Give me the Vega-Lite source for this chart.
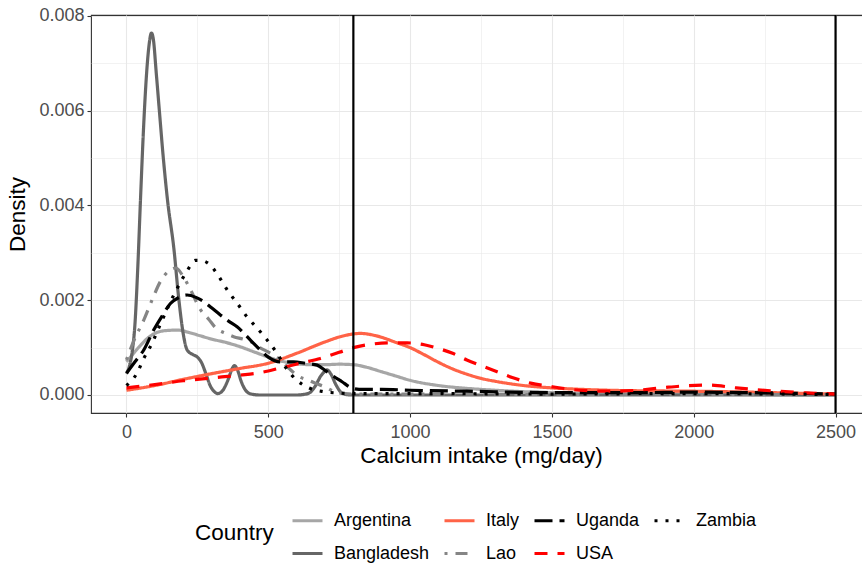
{
"$schema": "https://vega.github.io/schema/vega-lite/v6.json",
"width": 780, "height": 398,
"autosize": {"type": "none"},
"padding": {"left": 91, "top": 15, "right": 0, "bottom": 150},
"config": {
  "font": "Liberation Sans",
  "view": {"stroke": "#333333", "strokeWidth": 1.1},
  "axis": {"gridColor": "#E8E8E8", "domain": false, "tickColor": "#333333", "tickSize": 4, "tickWidth": 1.1, "labelColor": "#4D4D4D", "labelFontSize": 18, "titleFontSize": 22.5, "titleFontWeight": "normal", "titleColor": "#000000"}
},
"datasets": {
  "vlines": [{"intercept": 800}, {"intercept": 2500}],
  "curves": [
    {"country":"Argentina","intake":0,"density":0.0007},
    {"country":"Argentina","intake":25,"density":0.00088},
    {"country":"Argentina","intake":50,"density":0.00105},
    {"country":"Argentina","intake":75,"density":0.0012},
    {"country":"Argentina","intake":100,"density":0.0013},
    {"country":"Argentina","intake":140,"density":0.00136},
    {"country":"Argentina","intake":180,"density":0.00137},
    {"country":"Argentina","intake":220,"density":0.00132},
    {"country":"Argentina","intake":260,"density":0.00125},
    {"country":"Argentina","intake":300,"density":0.00118},
    {"country":"Argentina","intake":350,"density":0.00111},
    {"country":"Argentina","intake":400,"density":0.00102},
    {"country":"Argentina","intake":450,"density":0.00091},
    {"country":"Argentina","intake":500,"density":0.0008},
    {"country":"Argentina","intake":550,"density":0.00071},
    {"country":"Argentina","intake":600,"density":0.00066},
    {"country":"Argentina","intake":650,"density":0.00064},
    {"country":"Argentina","intake":700,"density":0.00064},
    {"country":"Argentina","intake":750,"density":0.00065},
    {"country":"Argentina","intake":800,"density":0.00064},
    {"country":"Argentina","intake":850,"density":0.00058},
    {"country":"Argentina","intake":900,"density":0.00049},
    {"country":"Argentina","intake":950,"density":0.0004},
    {"country":"Argentina","intake":1000,"density":0.00031},
    {"country":"Argentina","intake":1100,"density":0.0002},
    {"country":"Argentina","intake":1200,"density":0.00014},
    {"country":"Argentina","intake":1300,"density":0.0001},
    {"country":"Argentina","intake":1400,"density":0.00007},
    {"country":"Argentina","intake":1600,"density":0.00004},
    {"country":"Argentina","intake":1800,"density":0.00003},
    {"country":"Argentina","intake":2000,"density":0.00002},
    {"country":"Argentina","intake":2200,"density":0.00001},
    {"country":"Argentina","intake":2500,"density":0.0},
    {"country":"Bangladesh","intake":0,"density":0.00045},
    {"country":"Bangladesh","intake":10,"density":0.0006},
    {"country":"Bangladesh","intake":20,"density":0.0009},
    {"country":"Bangladesh","intake":30,"density":0.0015},
    {"country":"Bangladesh","intake":40,"density":0.0027},
    {"country":"Bangladesh","intake":50,"density":0.0042},
    {"country":"Bangladesh","intake":60,"density":0.0056},
    {"country":"Bangladesh","intake":70,"density":0.0067},
    {"country":"Bangladesh","intake":80,"density":0.0074},
    {"country":"Bangladesh","intake":88,"density":0.00764},
    {"country":"Bangladesh","intake":95,"density":0.0075},
    {"country":"Bangladesh","intake":105,"density":0.0068},
    {"country":"Bangladesh","intake":116,"density":0.006},
    {"country":"Bangladesh","intake":130,"density":0.005},
    {"country":"Bangladesh","intake":145,"density":0.0041},
    {"country":"Bangladesh","intake":167,"density":0.0031},
    {"country":"Bangladesh","intake":185,"density":0.002},
    {"country":"Bangladesh","intake":200,"density":0.0013},
    {"country":"Bangladesh","intake":214,"density":0.00095},
    {"country":"Bangladesh","intake":235,"density":0.00085},
    {"country":"Bangladesh","intake":250,"density":0.0008},
    {"country":"Bangladesh","intake":265,"density":0.00068},
    {"country":"Bangladesh","intake":280,"density":0.00045},
    {"country":"Bangladesh","intake":295,"density":0.0002},
    {"country":"Bangladesh","intake":310,"density":0.00007},
    {"country":"Bangladesh","intake":322,"density":0.00003},
    {"country":"Bangladesh","intake":340,"density":0.0001},
    {"country":"Bangladesh","intake":360,"density":0.00035},
    {"country":"Bangladesh","intake":372,"density":0.00055},
    {"country":"Bangladesh","intake":381,"density":0.00062},
    {"country":"Bangladesh","intake":392,"density":0.00052},
    {"country":"Bangladesh","intake":405,"density":0.00028},
    {"country":"Bangladesh","intake":420,"density":0.0001},
    {"country":"Bangladesh","intake":440,"density":0.00002},
    {"country":"Bangladesh","intake":470,"density":0.0},
    {"country":"Bangladesh","intake":600,"density":0.0},
    {"country":"Bangladesh","intake":640,"density":0.00003},
    {"country":"Bangladesh","intake":665,"density":0.00018},
    {"country":"Bangladesh","intake":685,"density":0.0004},
    {"country":"Bangladesh","intake":700,"density":0.0005},
    {"country":"Bangladesh","intake":708,"density":0.00053},
    {"country":"Bangladesh","intake":720,"density":0.00045},
    {"country":"Bangladesh","intake":740,"density":0.0002},
    {"country":"Bangladesh","intake":760,"density":0.00004},
    {"country":"Bangladesh","intake":790,"density":0.0},
    {"country":"Bangladesh","intake":2500,"density":0.0},
    {"country":"Italy","intake":0,"density":0.0001},
    {"country":"Italy","intake":100,"density":0.0002},
    {"country":"Italy","intake":200,"density":0.00033},
    {"country":"Italy","intake":300,"density":0.00045},
    {"country":"Italy","intake":400,"density":0.00056},
    {"country":"Italy","intake":500,"density":0.00067},
    {"country":"Italy","intake":600,"density":0.00088},
    {"country":"Italy","intake":700,"density":0.00112},
    {"country":"Italy","intake":760,"density":0.00124},
    {"country":"Italy","intake":825,"density":0.0013},
    {"country":"Italy","intake":880,"density":0.00125},
    {"country":"Italy","intake":950,"density":0.00111},
    {"country":"Italy","intake":1000,"density":0.001},
    {"country":"Italy","intake":1050,"density":0.00085},
    {"country":"Italy","intake":1100,"density":0.00069},
    {"country":"Italy","intake":1150,"density":0.00055},
    {"country":"Italy","intake":1200,"density":0.00044},
    {"country":"Italy","intake":1250,"density":0.00035},
    {"country":"Italy","intake":1300,"density":0.00029},
    {"country":"Italy","intake":1350,"density":0.00024},
    {"country":"Italy","intake":1400,"density":0.0002},
    {"country":"Italy","intake":1500,"density":0.00015},
    {"country":"Italy","intake":1600,"density":0.00012},
    {"country":"Italy","intake":1700,"density":0.0001},
    {"country":"Italy","intake":1800,"density":0.00009},
    {"country":"Italy","intake":2000,"density":0.00008},
    {"country":"Italy","intake":2200,"density":0.00006},
    {"country":"Italy","intake":2350,"density":0.00004},
    {"country":"Italy","intake":2500,"density":0.00002},
    {"country":"Lao","intake":0,"density":0.00074},
    {"country":"Lao","intake":30,"density":0.0012},
    {"country":"Lao","intake":61,"density":0.00158},
    {"country":"Lao","intake":90,"density":0.002},
    {"country":"Lao","intake":120,"density":0.0024},
    {"country":"Lao","intake":150,"density":0.00262},
    {"country":"Lao","intake":175,"density":0.00268},
    {"country":"Lao","intake":200,"density":0.0025},
    {"country":"Lao","intake":226,"density":0.00222},
    {"country":"Lao","intake":261,"density":0.0018},
    {"country":"Lao","intake":290,"density":0.0016},
    {"country":"Lao","intake":314,"density":0.00142},
    {"country":"Lao","intake":350,"density":0.0013},
    {"country":"Lao","intake":378,"density":0.00123},
    {"country":"Lao","intake":410,"density":0.00118},
    {"country":"Lao","intake":437,"density":0.00113},
    {"country":"Lao","intake":470,"density":0.001},
    {"country":"Lao","intake":508,"density":0.00088},
    {"country":"Lao","intake":543,"density":0.00074},
    {"country":"Lao","intake":575,"density":0.00055},
    {"country":"Lao","intake":608,"density":0.00039},
    {"country":"Lao","intake":643,"density":0.00031},
    {"country":"Lao","intake":670,"density":0.00024},
    {"country":"Lao","intake":696,"density":0.00018},
    {"country":"Lao","intake":730,"density":0.00008},
    {"country":"Lao","intake":770,"density":0.00003},
    {"country":"Lao","intake":800,"density":0.00002},
    {"country":"Lao","intake":1000,"density":0.00002},
    {"country":"Lao","intake":1500,"density":0.00001},
    {"country":"Lao","intake":2500,"density":0.00001},
    {"country":"Uganda","intake":0,"density":0.00046},
    {"country":"Uganda","intake":30,"density":0.0007},
    {"country":"Uganda","intake":61,"density":0.00095},
    {"country":"Uganda","intake":96,"density":0.00137},
    {"country":"Uganda","intake":125,"density":0.00166},
    {"country":"Uganda","intake":155,"density":0.00193},
    {"country":"Uganda","intake":185,"density":0.00206},
    {"country":"Uganda","intake":214,"density":0.00211},
    {"country":"Uganda","intake":245,"density":0.00206},
    {"country":"Uganda","intake":273,"density":0.00197},
    {"country":"Uganda","intake":300,"density":0.00184},
    {"country":"Uganda","intake":331,"density":0.00169},
    {"country":"Uganda","intake":360,"density":0.00156},
    {"country":"Uganda","intake":390,"density":0.00144},
    {"country":"Uganda","intake":437,"density":0.00116},
    {"country":"Uganda","intake":472,"density":0.00095},
    {"country":"Uganda","intake":500,"density":0.0008},
    {"country":"Uganda","intake":543,"density":0.0007},
    {"country":"Uganda","intake":589,"density":0.0007},
    {"country":"Uganda","intake":630,"density":0.00067},
    {"country":"Uganda","intake":672,"density":0.00063},
    {"country":"Uganda","intake":700,"density":0.00052},
    {"country":"Uganda","intake":731,"density":0.00039},
    {"country":"Uganda","intake":760,"density":0.00028},
    {"country":"Uganda","intake":790,"density":0.00016},
    {"country":"Uganda","intake":820,"density":0.00012},
    {"country":"Uganda","intake":900,"density":0.00012},
    {"country":"Uganda","intake":1000,"density":0.0001},
    {"country":"Uganda","intake":1200,"density":0.00008},
    {"country":"Uganda","intake":1500,"density":0.00005},
    {"country":"Uganda","intake":1800,"density":0.00005},
    {"country":"Uganda","intake":2000,"density":0.00006},
    {"country":"Uganda","intake":2200,"density":0.00005},
    {"country":"Uganda","intake":2500,"density":0.00002},
    {"country":"USA","intake":0,"density":0.00015},
    {"country":"USA","intake":100,"density":0.00022},
    {"country":"USA","intake":200,"density":0.0003},
    {"country":"USA","intake":300,"density":0.00036},
    {"country":"USA","intake":400,"density":0.00042},
    {"country":"USA","intake":461,"density":0.00046},
    {"country":"USA","intake":550,"density":0.00058},
    {"country":"USA","intake":620,"density":0.00068},
    {"country":"USA","intake":684,"density":0.00077},
    {"country":"USA","intake":750,"density":0.0009},
    {"country":"USA","intake":800,"density":0.001},
    {"country":"USA","intake":860,"density":0.00107},
    {"country":"USA","intake":920,"density":0.0011},
    {"country":"USA","intake":990,"density":0.0011},
    {"country":"USA","intake":1050,"density":0.00106},
    {"country":"USA","intake":1095,"density":0.00099},
    {"country":"USA","intake":1150,"density":0.00088},
    {"country":"USA","intake":1200,"density":0.00074},
    {"country":"USA","intake":1250,"density":0.00062},
    {"country":"USA","intake":1307,"density":0.00049},
    {"country":"USA","intake":1360,"density":0.00037},
    {"country":"USA","intake":1425,"density":0.00025},
    {"country":"USA","intake":1495,"density":0.00018},
    {"country":"USA","intake":1600,"density":0.0001},
    {"country":"USA","intake":1700,"density":0.00008},
    {"country":"USA","intake":1800,"density":0.0001},
    {"country":"USA","intake":1900,"density":0.00016},
    {"country":"USA","intake":1960,"density":0.00019},
    {"country":"USA","intake":2050,"density":0.00021},
    {"country":"USA","intake":2150,"density":0.00015},
    {"country":"USA","intake":2270,"density":0.00009},
    {"country":"USA","intake":2380,"density":0.00005},
    {"country":"USA","intake":2500,"density":0.00002},
    {"country":"Zambia","intake":0,"density":0.0002},
    {"country":"Zambia","intake":37,"density":0.00046},
    {"country":"Zambia","intake":61,"density":0.00077},
    {"country":"Zambia","intake":90,"density":0.00109},
    {"country":"Zambia","intake":120,"density":0.0015},
    {"country":"Zambia","intake":150,"density":0.0019},
    {"country":"Zambia","intake":185,"density":0.00232},
    {"country":"Zambia","intake":212,"density":0.0026},
    {"country":"Zambia","intake":243,"density":0.00284},
    {"country":"Zambia","intake":270,"density":0.00283},
    {"country":"Zambia","intake":290,"density":0.00277},
    {"country":"Zambia","intake":326,"density":0.0025},
    {"country":"Zambia","intake":355,"density":0.00222},
    {"country":"Zambia","intake":390,"density":0.00194},
    {"country":"Zambia","intake":425,"density":0.00165},
    {"country":"Zambia","intake":461,"density":0.00141},
    {"country":"Zambia","intake":496,"density":0.00116},
    {"country":"Zambia","intake":531,"density":0.00088},
    {"country":"Zambia","intake":565,"density":0.00055},
    {"country":"Zambia","intake":599,"density":0.00032},
    {"country":"Zambia","intake":643,"density":0.00015},
    {"country":"Zambia","intake":696,"density":0.00007},
    {"country":"Zambia","intake":750,"density":0.00004},
    {"country":"Zambia","intake":800,"density":0.00003},
    {"country":"Zambia","intake":1000,"density":0.00003},
    {"country":"Zambia","intake":1500,"density":0.00002},
    {"country":"Zambia","intake":2000,"density":0.00003},
    {"country":"Zambia","intake":2500,"density":0.00001}
  ]
},
"layer": [
  {
    "data": {"name": "curves"},
    "mark": {"type": "line", "strokeWidth": 3.2, "interpolate": "monotone", "clip": true},
    "encoding": {
      "x": {"field": "intake", "type": "quantitative",
        "scale": {"domain": [-125, 2625], "nice": false, "zero": false},
        "axis": {"title": "Calcium intake (mg/day)", "values": [0,250,500,750,1000,1250,1500,1750,2000,2250,2500], "format": "d",
          "labelExpr": "datum.value % 500 == 0 ? datum.label : ''",
          "tickOpacity": {"condition": {"test": "datum.value % 500 != 0", "value": 0}, "value": 1},
          "gridWidth": {"condition": {"test": "datum.value % 500 != 0", "value": 0.55}, "value": 1.1},
          "labelPadding": 6, "titlePadding": 3}},
      "y": {"field": "density", "type": "quantitative",
        "scale": {"domain": [-0.00038, 0.00802], "nice": false, "zero": false},
        "axis": {"title": "Density", "values": [0,0.001,0.002,0.003,0.004,0.005,0.006,0.007,0.008], "format": ".3f",
          "labelExpr": "round(datum.value*1000) % 2 == 0 ? datum.label : ''",
          "tickOpacity": {"condition": {"test": "round(datum.value*1000) % 2 == 1", "value": 0}, "value": 1},
          "gridWidth": {"condition": {"test": "round(datum.value*1000) % 2 == 1", "value": 0.55}, "value": 1.1},
          "labelPadding": 3, "titlePadding": 9}},
      "color": {"field": "country", "type": "nominal",
        "scale": {"domain": ["Argentina","Italy","Uganda","Zambia","Bangladesh","Lao","USA"],
                  "range": ["#A6A6A6","#FF6347","#000000","#000000","#666666","#858585","#FF0000"]},
        "legend": {"title": "Country", "orient": "none", "legendX": 104, "legendY": 489, "direction": "horizontal", "columns": 4,
          "titleOrient": "left", "titleAnchor": "middle", "symbolType": "stroke", "symbolSize": 900, "symbolStrokeWidth": 3, "labelFontSize": 18, "titleFontSize": 22.5,
          "titleFontWeight": "normal", "labelColor": "#000000", "titleColor": "#000000", "columnPadding": 8, "rowPadding": 7, "titlePadding": 17, "labelOffset": 10}},
      "strokeDash": {"field": "country", "type": "nominal",
        "scale": {"domain": ["Argentina","Italy","Uganda","Zambia","Bangladesh","Lao","USA"],
                  "range": [[1,0],[1,0],[18,7],[3,8],[1,0],[3,8,12,8],[13,10]]},
        "legend": {"title": "Country", "orient": "none", "legendX": 104, "legendY": 489, "direction": "horizontal", "columns": 4,
          "titleOrient": "left", "titleAnchor": "middle", "symbolType": "stroke", "symbolSize": 900, "symbolStrokeWidth": 3, "labelFontSize": 18, "titleFontSize": 22.5,
          "titleFontWeight": "normal", "labelColor": "#000000", "titleColor": "#000000", "columnPadding": 8, "rowPadding": 7, "titlePadding": 17, "labelOffset": 10}}
    }
  },
  {
    "data": {"name": "vlines"},
    "mark": {"type": "rule", "color": "#000000", "strokeWidth": 2.2},
    "encoding": {"x": {"field": "intercept", "type": "quantitative"}}
  }
]
}
